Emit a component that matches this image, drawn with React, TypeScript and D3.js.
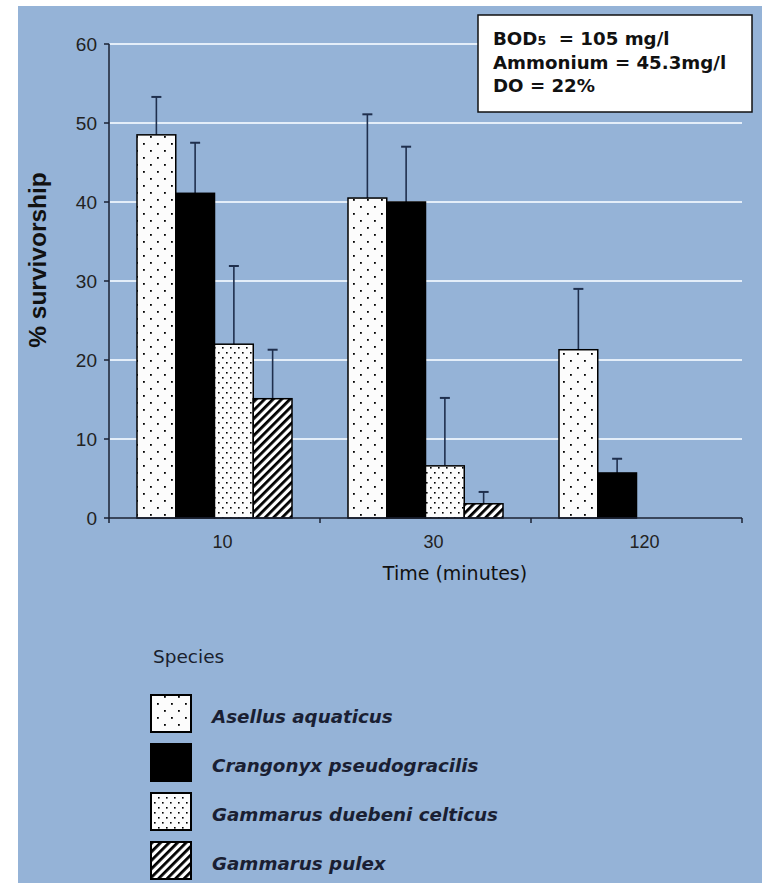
import React from 'react';
import * as d3 from 'd3';

// chart data
const times = ['10', '30', '120'];
const species = ['Asellus aquaticus', 'Crangonyx pseudogracilis', 'Gammarus duebeni celticus', 'Gammarus pulex'];
const meanAsellus = [48.5, 40.5, 21.3];
const meanCrangonyx = [41.1, 40.0, 5.7];
const meanDuebeni = [22.0, 6.6, 0];
const meanPulex = [15.1, 1.8, 0];
const errAsellus = [53.3, 51.1, 29.0];
const errCrangonyx = [47.5, 47.0, 7.5];
const errDuebeni = [31.9, 15.2, 0];
const errPulex = [21.3, 3.3, 0];
const yTicks = [0, 10, 20, 30, 40, 50, 60];
const infoLines = ['BOD|5|  = 105 mg/l', 'Ammonium = 45.3mg/l', 'DO = 22%'];

const means = [meanAsellus, meanCrangonyx, meanDuebeni, meanPulex];
const errs = [errAsellus, errCrangonyx, errDuebeni, errPulex];
const fills = ['url(#dotsWide)', '#000', 'url(#dotsDense)', 'url(#hatch)'];

const W = 765;
const H = 883;
const BG = '#95b3d7';
const INK = '#1b2233';

export default function App() {
  const x0 = d3.scaleBand<string>().domain(times).range([109, 742]).padding(0);
  const x1 = d3.scaleBand<string>().domain(species).range([28, x0.bandwidth() - 28]).padding(0);
  const y = d3.scaleLinear().domain([0, 60]).range([518, 44]);

  const bars: { key: string; x: number; w: number; v: number; e: number; fill: string }[] = [];
  times.forEach((t, ti) => {
    species.forEach((s, si) => {
      const v = means[si][ti];
      if (v <= 0) return;
      bars.push({ key: t + s, x: (x0(t) || 0) + (x1(s) || 0), w: x1.bandwidth(), v, e: errs[si][ti], fill: fills[si] });
    });
  });

  const legendTop = 695;
  const legendStep = 49;

  return (
    <div style={{ position: 'fixed', left: 0, top: 0, width: W, height: H, background: '#fff' }}>
      <svg width={W} height={H} style={{ display: 'block' }}>
        <defs>
          <pattern id="dotsWide" width="14" height="14" patternUnits="userSpaceOnUse">
            <rect width="14" height="14" fill="#fcfcfc" />
            <rect x="3" y="3" width="1.8" height="1.8" fill="#000" />
            <rect x="10" y="10" width="1.8" height="1.8" fill="#000" />
          </pattern>
          <pattern id="dotsDense" width="8" height="10" patternUnits="userSpaceOnUse">
            <rect width="8" height="10" fill="#fcfcfc" />
            <rect x="2" y="2" width="1.6" height="1.6" fill="#000" />
            <rect x="6" y="7" width="1.6" height="1.6" fill="#000" />
          </pattern>
          <pattern id="hatch" width="6" height="6" patternUnits="userSpaceOnUse" patternTransform="rotate(45)">
            <rect width="6" height="6" fill="#fff" />
            <rect x="0" y="0" width="2.8" height="6" fill="#000" />
          </pattern>
        </defs>

        <rect x={18} y={6} width={744} height={877} fill={BG} />

        {/* gridlines */}
        {yTicks.filter(t => t > 0).map(t => (
          <line key={'g' + t} x1={110} x2={742} y1={y(t)} y2={y(t)} stroke="#e4eef9" strokeWidth={2} />
        ))}

        {/* bars */}
        {bars.map(b => (
          <g key={b.key}>
            <line x1={b.x + b.w / 2} x2={b.x + b.w / 2} y1={y(b.v)} y2={y(b.e)} stroke="#1f2f4d" strokeWidth={1.6} />
            <line x1={b.x + b.w / 2 - 5} x2={b.x + b.w / 2 + 5} y1={y(b.e)} y2={y(b.e)} stroke="#1f2f4d" strokeWidth={2} />
            <rect x={b.x} y={y(b.v)} width={b.w} height={y(0) - y(b.v)} fill={b.fill} stroke="#000" strokeWidth={1.5} />
          </g>
        ))}

        {/* y axis */}
        <line x1={109} x2={109} y1={y(60)} y2={y(0)} stroke={INK} strokeWidth={1.5} />
        {yTicks.map(t => (
          <g key={'y' + t}>
            <line x1={104} x2={109} y1={y(t)} y2={y(t)} stroke={INK} strokeWidth={1.5} />
            <text x={97} y={y(t)} dy="0.35em" textAnchor="end" fontFamily="Liberation Sans, Arial, sans-serif" fontSize={19} fill="#222">
              {t}
            </text>
          </g>
        ))}
        <text transform="translate(37,260) rotate(-90)" textAnchor="middle" dy="0.35em" fontFamily="Liberation Sans, Arial, sans-serif" fontWeight="bold" fontSize={24.5} fill="#111">
          % survivorship
        </text>

        {/* x axis */}
        <line x1={109} x2={742} y1={y(0)} y2={y(0)} stroke={INK} strokeWidth={1.5} />
        {[...times.map(t => x0(t) || 0), 742].map((v, i) => (
          <line key={'xt' + i} x1={v} x2={v} y1={y(0)} y2={y(0) + 5} stroke={INK} strokeWidth={1.5} />
        ))}
        {times.map(t => (
          <text key={'xl' + t} x={(x0(t) || 0) + x0.bandwidth() / 2 + 8} y={548} textAnchor="middle" fontFamily="Liberation Sans, Arial, sans-serif" fontSize={18} fill="#222">
            {t}
          </text>
        ))}
        <text x={455} y={580} textAnchor="middle" fontFamily="DejaVu Sans, Verdana, sans-serif" fontSize={19} fill="#111">
          Time (minutes)
        </text>

        {/* info box */}
        <rect x={478} y={15} width={274} height={97} fill="#fff" stroke="#111" strokeWidth={1.5} />
        {infoLines.map((l, i) => {
          const parts = l.split('|');
          return (
            <text key={'i' + i} x={493} y={45 + i * 23.5} fontFamily="DejaVu Sans, Verdana, sans-serif" fontWeight="bold" fontSize={18.2} fill="#111" xmlSpace="preserve">
              {parts.length > 1 ? (
                <>
                  {parts[0]}
                  <tspan fontSize={12.5}>{parts[1]}</tspan>
                  {parts[2]}
                </>
              ) : l}
            </text>
          );
        })}

        {/* legend */}
        <text x={153} y={663} fontFamily="DejaVu Sans, Verdana, sans-serif" fontSize={18.5} fill="#1a1f2e">
          Species
        </text>
        {species.map((s, i) => (
          <g key={'l' + s}>
            <rect x={151} y={legendTop + i * legendStep} width={40} height={37} fill={fills[i]} stroke="#000" strokeWidth={2} />
            <text x={212} y={legendTop + i * legendStep + 28} fontFamily="DejaVu Sans, Verdana, sans-serif" fontWeight="bold" fontStyle="italic" fontSize={18.3} fill="#1a1f33">
              {s}
            </text>
          </g>
        ))}
      </svg>
    </div>
  );
}
